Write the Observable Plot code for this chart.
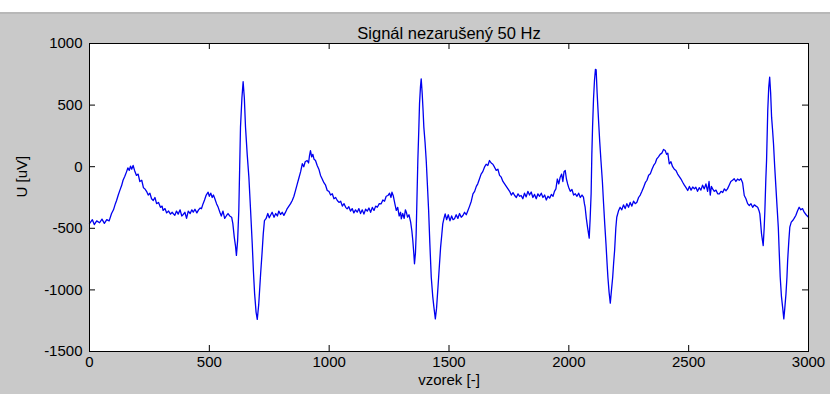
<!DOCTYPE html>
<html>
<head>
<meta charset="utf-8">
<script src="https://cdn.jsdelivr.net/npm/d3@7"></script>
<script src="https://cdn.jsdelivr.net/npm/@observablehq/plot@0.6"></script>
<style>
  html, body { margin: 0; padding: 0; background: #fff; }
  #fig { position: relative; width: 830px; height: 394px; overflow: hidden; }
  #fig svg { display: block; }
  #band { position: absolute; left: 0; top: 0; width: 830px; height: 12px; background: #fff; }
  #bandline { position: absolute; left: 0; top: 12px; width: 830px; height: 2px; background: #b8b8b8; }
</style>
</head>
<body>
<div id="fig"><div id="band"></div><div id="bandline"></div></div>
<script>
// ECG record: sample index and voltage in microvolts
const samples = [
  0,12,20,30,42,52,62,72,82,92,100,108,113,120,127,134,140,147,154,160,166,171,176,182,188,196,203,210,218,225,
  231,238,245,252,259,266,273,280,288,296,303,307,315,322,330,338,345,349,356,363,370,378,385,391,398,405,412,420,427,433,
  440,448,455,462,467,474,480,487,495,500,506,512,517,523,530,537,544,550,557,564,572,578,585,593,598,604,609,613,618,623,
  630,636,641,646,651,658,665,672,679,684,689,695,700,706,714,720,725,730,737,744,750,755,762,770,777,784,790,797,804,811,
  818,825,832,839,846,853,860,867,874,881,888,894,900,908,914,918,922,927,932,937,943,950,957,964,971,978,985,992,999,1006,
  1013,1020,1027,1034,1041,1048,1055,1062,1069,1075,1082,1089,1096,1103,1110,1117,1124,1131,1138,1145,1152,1159,1166,1173,1180,1187,1194,1201,1209,1217,
  1224,1231,1238,1245,1252,1258,1262,1268,1274,1280,1286,1292,1298,1301,1307,1313,1318,1322,1327,1333,1340,1345,1349,1353,1356,1360,1363,1367,1370,1374,
  1377,1381,1384,1388,1392,1395,1400,1405,1410,1415,1420,1426,1432,1437,1443,1448,1454,1460,1465,1470,1474,1479,1484,1490,1497,1504,1511,1517,1523,1530,
  1537,1544,1551,1558,1565,1572,1579,1586,1593,1600,1607,1614,1620,1627,1634,1641,1648,1655,1662,1669,1676,1683,1690,1697,1704,1711,1718,1725,1732,1739,
  1746,1753,1760,1767,1774,1781,1788,1795,1801,1808,1815,1822,1829,1836,1843,1850,1857,1864,1871,1878,1885,1892,1899,1906,1913,1920,1927,1934,1940,1946,
  1952,1958,1964,1970,1975,1980,1985,1990,1995,1999,2006,2013,2020,2027,2034,2041,2048,2055,2061,2065,2068,2073,2078,2085,2089,2093,2096,2099,2103,2107,
  2111,2114,2118,2124,2129,2134,2140,2145,2150,2155,2160,2163,2168,2173,2178,2183,2187,2191,2196,2200,2207,2214,2221,2228,2235,2242,2249,2256,2263,2270,
  2277,2284,2291,2298,2305,2312,2319,2326,2333,2340,2347,2354,2361,2367,2374,2381,2388,2395,2402,2408,2413,2419,2426,2433,2440,2447,2454,2461,2468,2475,
  2482,2489,2496,2503,2510,2517,2524,2530,2537,2544,2551,2558,2565,2572,2579,2585,2590,2595,2600,2607,2614,2621,2628,2635,2642,2649,2656,2662,2669,2676,
  2683,2690,2697,2704,2711,2718,2725,2732,2739,2746,2753,2760,2767,2774,2781,2788,2794,2797,2800,2804,2808,2811,2815,2818,2822,2825,2830,2834,2838,2842,
  2846,2850,2854,2859,2864,2869,2874,2878,2882,2887,2892,2897,2901,2906,2910,2913,2918,2922,2928,2934,2940,2947,2954,2961,2968,2975,2982,2990,3000
];
const microvolts = [
  -463,-430,-470,-440,-455,-425,-460,-430,-440,-380,-350,-300,-274,-230,-190,-153,-110,-80,-44,-10,-30,5,-20,10,-30,-71,-60,-120,-110,-170,
  -180,-200,-230,-215,-260,-274,-250,-300,-290,-330,-320,-355,-340,-375,-360,-385,-370,-380,-395,-360,-385,-350,-400,-388,-370,-420,-360,-380,-350,-369,
  -345,-375,-350,-335,-341,-300,-270,-230,-207,-240,-215,-250,-230,-260,-300,-330,-369,-400,-360,-420,-396,-380,-400,-410,-460,-572,-640,-720,-600,-355,
  321,560,690,560,321,100,-85,-350,-626,-850,-1032,-1180,-1240,-1120,-869,-700,-545,-437,-420,-380,-415,-396,-370,-410,-380,-400,-360,-388,-370,-395,
  -369,-340,-320,-300,-274,-240,-190,-139,-90,-40,24,0,40,50,30,90,131,80,100,60,50,10,-20,-71,-100,-130,-150,-193,-200,-230,
  -220,-260,-250,-274,-290,-280,-320,-300,-330,-342,-325,-360,-340,-375,-350,-369,-340,-380,-350,-385,-345,-361,-335,-370,-330,-355,-320,-329,-300,-301,
  -270,-280,-240,-234,-215,-250,-207,-240,-300,-355,-330,-400,-370,-423,-380,-420,-350,-369,-410,-390,-450,-520,-599,-700,-788,-700,-545,-200,50,300,
  510,650,713,600,450,321,200,50,-150,-355,-620,-897,-1050,-1140,-1235,-1150,-978,-800,-653,-550,-464,-420,-383,-430,-390,-440,-400,-430,-423,-390,
  -420,-380,-410,-396,-370,-390,-355,-320,-280,-220,-200,-160,-139,-100,-60,-40,-4,20,10,50,30,20,-4,-30,-20,-70,-85,-120,-140,-160,
  -180,-200,-230,-210,-234,-250,-220,-240,-234,-260,-215,-245,-200,-230,-205,-250,-225,-260,-220,-240,-215,-250,-230,-270,-240,-255,-225,-240,-200,-180,
  -100,-140,-85,-60,-120,-40,-31,-100,-140,-166,-200,-185,-230,-220,-240,-215,-250,-230,-247,-300,-329,-420,-491,-580,-420,-220,100,321,550,700,
  790,786,600,375,200,50,-120,-301,-470,-626,-800,-897,-1020,-1108,-1000,-897,-780,-680,-500,-410,-360,-329,-350,-310,-340,-300,-329,-290,-320,-280,
  -300,-288,-250,-230,-200,-166,-130,-110,-70,-58,-20,10,30,64,80,100,110,140,131,100,110,24,40,0,-20,-31,-60,-80,-100,-126,
  -150,-170,-193,-160,-190,-165,-180,-166,-200,-170,-190,-150,-180,-140,-200,-120,-230,-160,-180,-200,-190,-220,-220,-200,-210,-180,-195,-180,-150,-120,
  -110,-98,-120,-100,-110,-98,-130,-234,-260,-300,-315,-300,-330,-310,-320,-329,-360,-383,-450,-545,-600,-640,-500,-355,-100,50,456,640,727,600,
  402,300,186,0,-166,-330,-491,-700,-897,-1050,-1140,-1235,-1150,-1032,-900,-761,-600,-491,-450,-437,-420,-396,-360,-329,-350,-340,-369,-390,-410
];
const signal = samples.map((s, i) => ({vzorek: s, u: microvolts[i]}));

// Axis ticks and labels
const xTicks = [0, 500, 1000, 1500, 2000, 2500, 3000];
const yTicks = [-1500, -1000, -500, 0, 500, 1000];
const titleText = "Signál nezarušený 50 Hz";
const xLabel = "vzorek [-]";
const yLabel = "U [uV]";

const W = 830, H = 394;
const mL = 89, mR = 22, mT = 43, mB = 43;
const frameW = W - mL - mR, frameH = H - mT - mB;
const tickLen = 6;
const font = "'Liberation Sans', Arial, sans-serif";

const chart = Plot.plot({
  width: W,
  height: H,
  marginLeft: mL,
  marginRight: mR,
  marginTop: mT,
  marginBottom: mB,
  style: {background: "#c9c9c9", fontFamily: font, fontSize: "15px", color: "#000", overflow: "visible"},
  x: {domain: [0, 3000]},
  y: {domain: [-1500, 1000]},
  marks: [
    Plot.frame({fill: "#fff", stroke: "none"}),
    Plot.line(signal, {x: "vzorek", y: "u", stroke: "#0000f0", strokeWidth: 1.3}),
    Plot.frame({stroke: "#000", strokeWidth: 1}),
    // inward ticks on all four sides of the box
    Plot.tickX(xTicks, {x: d => d, insetTop: frameH - tickLen, stroke: "#000"}),
    Plot.tickX(xTicks, {x: d => d, insetBottom: frameH - tickLen, stroke: "#000"}),
    Plot.tickY(yTicks, {y: d => d, insetRight: frameW - tickLen, stroke: "#000"}),
    Plot.tickY(yTicks, {y: d => d, insetLeft: frameW - tickLen, stroke: "#000"}),
    Plot.axisX(xTicks, {tickSize: 0, tickPadding: 5, label: null, tickFormat: d => String(d), fontSize: 15, fill: "#000"}),
    Plot.axisY(yTicks, {tickSize: 0, tickPadding: 7, label: null, tickFormat: d => String(d), fontSize: 15, fill: "#000"}),
    Plot.text([titleText], {text: d => d, frameAnchor: "top", dy: -16, fontSize: 16.5, fill: "#000"}),
    Plot.text([xLabel], {text: d => d, frameAnchor: "bottom", dy: 33, fontSize: 15, fill: "#000"}),
    Plot.text([yLabel], {text: d => d, frameAnchor: "left", dx: -67, rotate: -90, fontSize: 15, fill: "#000"})
  ]
});

document.getElementById("fig").prepend(chart);
</script>
</body>
</html>
